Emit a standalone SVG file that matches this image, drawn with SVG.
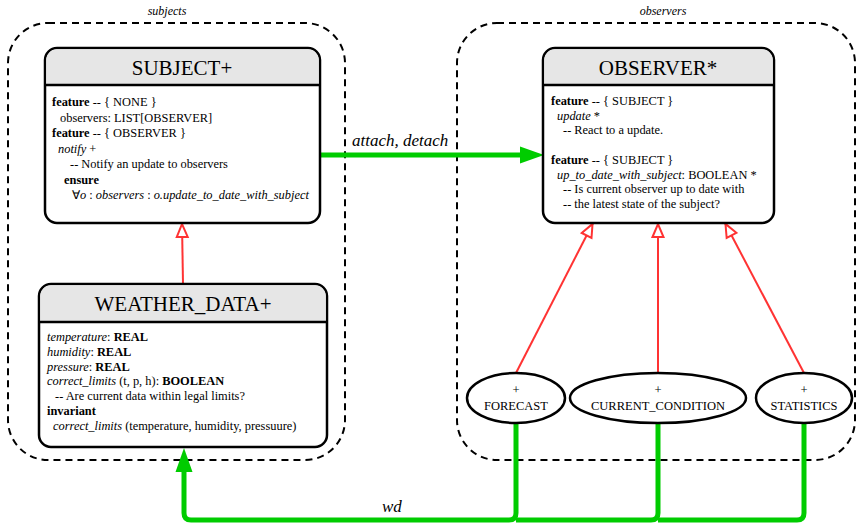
<svg xmlns="http://www.w3.org/2000/svg" width="857" height="524" viewBox="0 0 857 524" font-family="'Liberation Serif', 'Times New Roman', serif">
<style>
text{font-family:"Liberation Serif","Times New Roman",serif;fill:#000}
.cl{fill:none;stroke:#000;stroke-width:2;stroke-dasharray:7,5}
.cll{font-size:12px;font-style:italic;text-anchor:middle}
.box{fill:#fff;stroke:#000;stroke-width:2.5}
.hdr{fill:#e6e6e6}
.sep{stroke:#000;stroke-width:2.5}
.ttl{font-size:21px;text-anchor:middle}
.bd{font-size:12.4px}
.b{font-weight:bold}
.i{font-style:italic}
.ell{fill:#fff;stroke:#000;stroke-width:2.5}
.el{font-size:12.5px;text-anchor:middle}
.inh{fill:none;stroke:#ff3333;stroke-width:2}
.cli{fill:none;stroke:#00cc00;stroke-width:5}
.lbl{font-size:17px;font-style:italic}
</style>
<defs>
<marker id="tri" viewBox="0 0 15 13" refX="15" refY="6.5" markerWidth="15" markerHeight="13" markerUnits="userSpaceOnUse" orient="auto" overflow="visible">
<path d="M1,1 L14,6.5 L1,12 z" fill="#fff" stroke="#ff3333" stroke-width="2"/>
</marker>
<marker id="garr" viewBox="0 0 24 17" refX="0" refY="8.5" markerWidth="24" markerHeight="17" markerUnits="userSpaceOnUse" orient="auto" overflow="visible">
<path d="M0,0 L24,8.5 L0,17 z" fill="#00cc00"/>
</marker>
</defs>

<g id="cluster_subjects">
<rect class="cl" x="8" y="23" width="337" height="437" rx="40"/>
<text class="cll" x="167" y="15">subjects</text>
</g>
<g id="cluster_observers">
<rect class="cl" x="457" y="23" width="398" height="437" rx="40"/>
<text class="cll" x="663" y="15">observers</text>
</g>

<g id="connectors">
<path class="inh" d="M183,284 L182,223" marker-end="url(#tri)"/>
<path class="inh" d="M516,373 L593,223" marker-end="url(#tri)"/>
<path class="inh" d="M658,373 L658,223" marker-end="url(#tri)"/>
<path class="inh" d="M804,373 L725,223" marker-end="url(#tri)"/>
<path class="cli" d="M320,155 H520" marker-end="url(#garr)"/>
<text class="lbl" x="352" y="146">attach, detach</text>
<path class="cli" d="M804,423 V513 Q804,520 797,520 H658"/>
<path class="cli" d="M658,423 V513 Q658,520 651,520 H516"/>
<path class="cli" d="M516,423 V513 Q516,520 509,520 H191 Q184,520 184,513 V472" marker-end="url(#garr)"/>
<text class="lbl" x="382" y="512">wd</text>
</g>

<g id="SUBJECT">
<rect class="box" x="45" y="48" width="275" height="175" rx="12"/>
<path class="hdr" d="M57,49.25 H308 A10.75,10.75 0 0 1 318.75,60 V85 H46.25 V60 A10.75,10.75 0 0 1 57,49.25 z"/>
<line class="sep" x1="45" y1="85" x2="320" y2="85"/>
<text class="ttl" x="182" y="75">SUBJECT+</text>
<text class="bd" x="52" y="106"><tspan class="b">feature</tspan> -- { NONE }</text>
<text class="bd" x="60" y="121.5">observers: LIST[OBSERVER]</text>
<text class="bd" x="52" y="137"><tspan class="b">feature</tspan> -- { OBSERVER }</text>
<text class="bd" x="58" y="152.5"><tspan class="i">notify</tspan> +</text>
<text class="bd" x="70" y="168">-- Notify an update to observers</text>
<text class="bd" x="64" y="183.5"><tspan class="b">ensure</tspan></text>
<text class="bd" x="72" y="199">∀<tspan class="i">o</tspan> : <tspan class="i">observers</tspan> : <tspan class="i">o.update_to_date_with_subject</tspan></text>
</g>

<g id="WEATHER_DATA">
<rect class="box" x="39" y="284" width="288" height="163" rx="12"/>
<path class="hdr" d="M51,285.25 H315 A10.75,10.75 0 0 1 325.75,296 V322 H40.25 V296 A10.75,10.75 0 0 1 51,285.25 z"/>
<line class="sep" x1="39" y1="322" x2="327" y2="322"/>
<text class="ttl" x="183" y="311">WEATHER_DATA+</text>
<text class="bd" x="47" y="341"><tspan class="i">temperature</tspan>: <tspan class="b">REAL</tspan></text>
<text class="bd" x="47" y="355.8"><tspan class="i">humidity</tspan>: <tspan class="b">REAL</tspan></text>
<text class="bd" x="47" y="370.6"><tspan class="i">pressure</tspan>: <tspan class="b">REAL</tspan></text>
<text class="bd" x="47" y="385.4"><tspan class="i">correct_limits</tspan> (t, p, h): <tspan class="b">BOOLEAN</tspan></text>
<text class="bd" x="55" y="400.2">-- Are current data within legal limits?</text>
<text class="bd" x="47" y="415"><tspan class="b">invariant</tspan></text>
<text class="bd" x="53" y="429.8"><tspan class="i">correct_limits</tspan> (temperature, humidity, pressuure)</text>
</g>

<g id="OBSERVER">
<rect class="box" x="543" y="48" width="231" height="175" rx="12"/>
<path class="hdr" d="M555,49.25 H762 A10.75,10.75 0 0 1 772.75,60 V85 H544.25 V60 A10.75,10.75 0 0 1 555,49.25 z"/>
<line class="sep" x1="543" y1="85" x2="774" y2="85"/>
<text class="ttl" x="658" y="75">OBSERVER*</text>
<text class="bd" x="551" y="105"><tspan class="b">feature</tspan> -- { SUBJECT }</text>
<text class="bd" x="557" y="119.7"><tspan class="i">update</tspan> *</text>
<text class="bd" x="563" y="134.4">-- React to a update.</text>
<text class="bd" x="551" y="163.8"><tspan class="b">feature</tspan> -- { SUBJECT }</text>
<text class="bd" x="557" y="178.5"><tspan class="i">up_to_date_with_subject</tspan>: BOOLEAN *</text>
<text class="bd" x="563" y="193.2">-- Is current observer up to date with</text>
<text class="bd" x="563" y="207.9">-- the latest state of the subject?</text>
</g>

<g id="FORECAST">
<ellipse class="ell" cx="516" cy="398" rx="49" ry="25"/>
<text class="el" x="516" y="394">+</text>
<text class="el" x="516" y="410">FORECAST</text>
</g>
<g id="CURRENT_CONDITION">
<ellipse class="ell" cx="658" cy="398" rx="88" ry="25"/>
<text class="el" x="658" y="394">+</text>
<text class="el" x="658" y="410">CURRENT_CONDITION</text>
</g>
<g id="STATISTICS">
<ellipse class="ell" cx="804" cy="398" rx="48" ry="25"/>
<text class="el" x="804" y="394">+</text>
<text class="el" x="804" y="410">STATISTICS</text>
</g>
</svg>
